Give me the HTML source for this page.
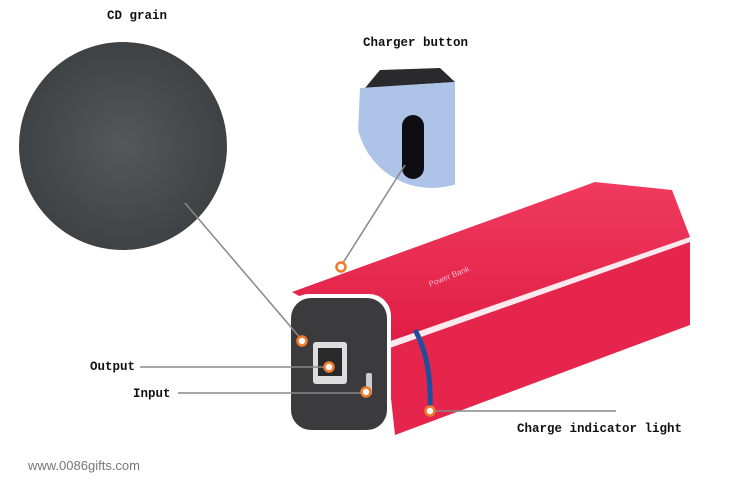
<!DOCTYPE html>
<html><head><meta charset="utf-8"><style>
body{margin:0;background:#fff;}
svg{display:block}
.l{font-family:"Liberation Mono",monospace;font-size:12.5px;font-weight:bold;fill:#111}
</style></head><body>
<svg width="750" height="485" viewBox="0 0 750 485">
<defs>
<radialGradient id="dg" cx="0.5" cy="0.5" r="0.5"><stop offset="0" stop-color="#55585a"/><stop offset="1" stop-color="#3f4244"/></radialGradient>
<clipPath id="cb"><circle cx="432" cy="112" r="76"/></clipPath>
<linearGradient id="rs" x1="0" y1="0" x2="0" y2="1"><stop offset="0" stop-color="#f03a5e"/><stop offset="1" stop-color="#e01d45"/></linearGradient>
</defs>
<circle cx="123" cy="146" r="104" fill="url(#dg)"/>
<g clip-path="url(#cb)">
<polygon points="365,88 380,70 440,68 455,82" fill="#2a2a2e"/>
<polygon points="360,88 455,82 455,200 355,200" fill="#adc3e8"/>
</g>
<rect x="356" y="50" width="110" height="12" fill="#fff"/>
<rect x="455" y="60" width="20" height="140" fill="#fff"/>
<rect x="402" y="115" width="22" height="64" rx="11" fill="#0e0e12"/>
<text x="363" y="46" class="l">Charger button</text>
<text x="107" y="19" class="l">CD grain</text>
<!-- power bank -->
<polygon points="292,292 595,182 672,190 690,237 385,343" fill="url(#rs)"/>
<polygon points="385,343 690,237 690,325 395,435" fill="#e5254c"/>
<polygon points="385,343 690,237 690,242 387,349" fill="#fff" opacity="0.9"/>
<rect x="287" y="294" width="104" height="140" rx="22" fill="#fff"/>
<rect x="291" y="298" width="96" height="132" rx="20" fill="#3b3b3e"/>
<rect x="313" y="342" width="34" height="42" rx="3" fill="#ddd"/>
<rect x="318" y="348" width="24" height="28" fill="#2a2a2a"/>
<rect x="366" y="373" width="6" height="22" rx="2" fill="#ccc"/>
<path d="M415,330 Q432,360 430,410" stroke="#1f4f9a" stroke-width="5" fill="none"/>
<text x="430" y="287" font-family="Liberation Sans,sans-serif" font-size="8" fill="#f7b9c6" transform="rotate(-22 430 287)">Power Bank</text>
<g stroke="#888" stroke-width="1.5" fill="none">
<line x1="185" y1="203" x2="302" y2="340"/>
<line x1="405" y1="165" x2="341" y2="266"/>
<line x1="140" y1="367" x2="328" y2="367"/>
<line x1="178" y1="393" x2="367" y2="393"/>
<line x1="430" y1="411" x2="616" y2="411"/>
</g>
<g fill="#fff" stroke="#f07a2a" stroke-width="2.5">
<circle cx="341" cy="267" r="4.5"/>
<circle cx="302" cy="341" r="4.5"/>
<circle cx="329" cy="367" r="4.5"/>
<circle cx="366" cy="392" r="4.5"/>
<circle cx="430" cy="411" r="4.5"/>
</g>
<text x="90" y="370" class="l">Output</text>
<text x="133" y="397" class="l">Input</text>
<text x="517" y="432" class="l">Charge indicator light</text>
<text x="28" y="470" font-family="Liberation Sans,sans-serif" font-size="13" fill="#777">www.0086gifts.com</text>
</svg>
</body></html>
